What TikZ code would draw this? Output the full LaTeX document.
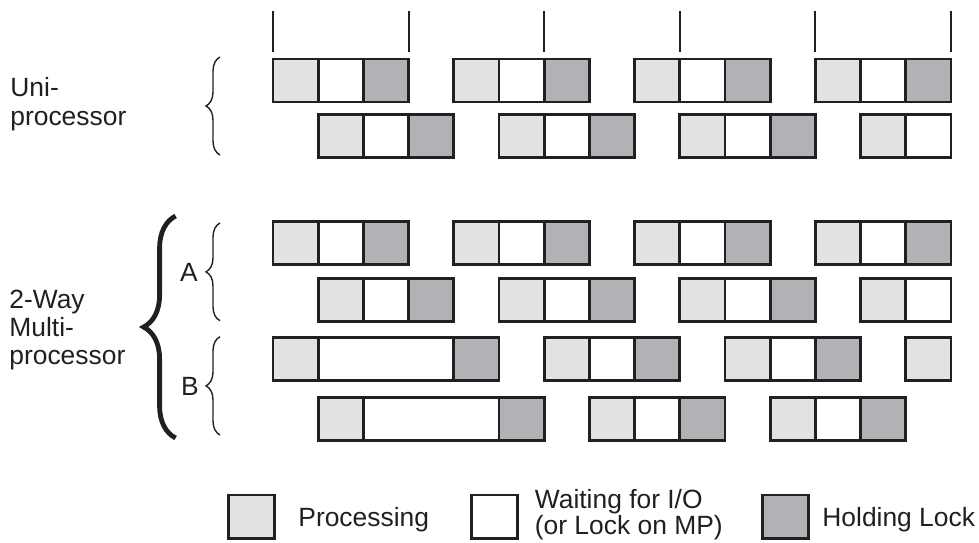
\documentclass[tikz,border=0pt]{standalone}
\usepackage{fontspec}
\setmainfont{Liberation Sans}
\usepackage{xcolor}
\usepackage{tikz}
\usetikzlibrary{positioning,decorations.pathreplacing}

\definecolor{proclight}{HTML}{E1E2E4}
\definecolor{lockdark}{HTML}{B1B2B5}
\definecolor{inkblack}{HTML}{231F20}

\begin{document}
\begin{tikzpicture}
            [x=0.5pt,y=-0.5pt,
             every node/.style={font=\fontsize{13.2}{14.2}\selectfont, text=inkblack},
             cellbox/.style={draw=inkblack, line width=1.4pt, rectangle, inner sep=0pt, outer sep=0pt, minimum height=21.5pt, anchor=west},
             procbox/.style={cellbox, fill=proclight},
             waitbox/.style={cellbox, fill=white},
             lockbox/.style={cellbox, fill=lockdark},
             tickmark/.style={draw=inkblack, line width=1pt},
             thinbrace/.style={draw=inkblack, line width=0.7pt, decorate, decoration={brace, amplitude=7pt}},
             boldbrace/.style={draw=inkblack, line width=2.4pt, decorate, decoration={brace, amplitude=16pt}}]
            \useasboundingbox (0,0) rectangle (979,542);

            % one cell is 22.6pt wide
            \begin{scope}[shift={(273,0)}, x=22.6pt]
              \foreach \t in {0,3,...,15}
              \draw[tickmark] (\t,11) -- (\t,52);

              \foreach \r/\y in {u1/80.5, a1/243.3}
              \foreach \s/\k in {0/procbox, 1/waitbox, 2/lockbox, 4/procbox, 5/waitbox, 6/lockbox,
                                 8/procbox, 9/waitbox, 10/lockbox, 12/procbox, 13/waitbox, 14/lockbox}
              \node[\k, minimum width=22.6pt] (\r-\s) at (\s,\y) {};

              \foreach \r/\y in {u2/136, a2/300}
              \foreach \s/\k in {1/procbox, 2/waitbox, 3/lockbox, 5/procbox, 6/waitbox, 7/lockbox,
                                 9/procbox, 10/waitbox, 11/lockbox, 13/procbox, 14/waitbox}
              \node[\k, minimum width=22.6pt] (\r-\s) at (\s,\y) {};

              \foreach \s/\w/\k in {0/1/procbox, 1/3/waitbox, 4/1/lockbox, 6/1/procbox, 7/1/waitbox,
                                    8/1/lockbox, 10/1/procbox, 11/1/waitbox, 12/1/lockbox, 14/1/procbox}
              \node[\k, minimum width=\w*22.6pt] (b1-\s) at (\s,359.2) {};

              \foreach \s/\w/\k in {1/1/procbox, 2/3/waitbox, 5/1/lockbox, 7/1/procbox, 8/1/waitbox,
                                    9/1/lockbox, 11/1/procbox, 12/1/waitbox, 13/1/lockbox}
              \node[\k, minimum width=\w*22.6pt] (b2-\s) at (\s,419.2) {};
            \end{scope}

            % groups
            \draw[thinbrace] (220,155) -- (220,57);
            \draw[thinbrace] (220,320.7) -- (220,223);
            \draw[thinbrace] (220,435) -- (220,336.7);
            \draw[boldbrace] (175.6,438) -- (175.6,216);

            \node[anchor=west, align=left, inner sep=0pt] (uni) at (10,104) {Uni-\\processor};
            \node[anchor=west, align=left, inner sep=0pt] (multi) at (9,330) {2-Way\\Multi-\\processor};
            \node[inner sep=0pt] (grpa) at (189,272) {A};
            \node[inner sep=0pt] (grpb) at (190,386) {B};

            % legend
            \node[procbox, anchor=center, minimum width=23pt, minimum height=21.6pt] (legproc) at (251.3,516.6) {};
            \node[waitbox, anchor=center, minimum width=23pt, minimum height=21.6pt] (legwait) at (494.5,516.6) {};
            \node[lockbox, anchor=center, minimum width=23pt, minimum height=21.6pt] (leglock) at (785.3,516.6) {};
            \node[anchor=base west, inner sep=0pt] (legproctext) at (298,526.5) {Processing};
            \node[anchor=west, align=left, inner sep=0pt, font=\fontsize{13.2}{12}\selectfont] (legwaittext) at (534.5,514.5) {Waiting for I/O\\(or Lock on MP)};
            \node[anchor=base west, inner sep=0pt] (leglocktext) at (822,526.5) {Holding Lock};
          \end{tikzpicture}
\end{document}
